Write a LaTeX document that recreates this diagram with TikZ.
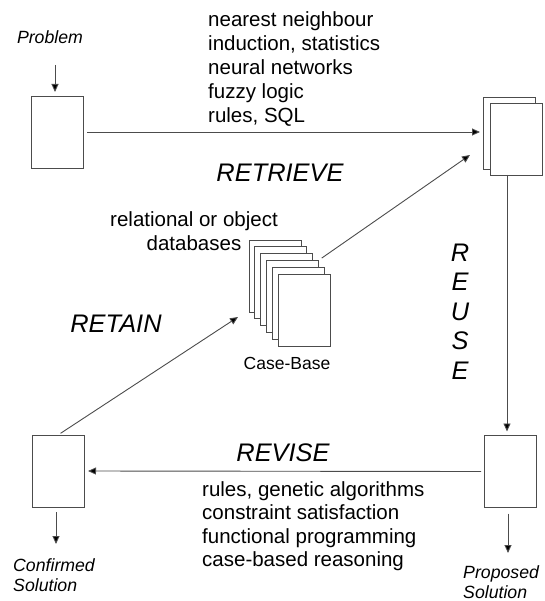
\documentclass[tikz,border=0pt]{standalone}
\usepackage{fontspec}
\setmainfont{Liberation Sans}
\usetikzlibrary{arrows.meta}
\tikzset{
  x=1pt, y=-1pt,
  lin/.style={draw=black!70, line width=0.9pt},
  arr/.style={lin, -{Triangle[length=8pt,width=7pt,fill=black]}},
  page/.style={lin, fill=white, minimum width=52pt, minimum height=72pt, inner sep=0pt, outer sep=0pt},
  list/.style={anchor=base west, inner sep=0pt, font=\fontsize{20.5}{24}\selectfont},
  big/.style={anchor=base, inner sep=0pt, font=\fontsize{25.4}{30}\selectfont\itshape},
  small/.style={anchor=base west, inner sep=0pt, font=\fontsize{17.7}{20}\selectfont\itshape},
}
\begin{document}
\begin{tikzpicture}
\useasboundingbox (0,0) rectangle (544,601);

% Problem
\node[small, anchor=base] (prob) at (50,44) {Problem};
\node[page] (b1) at (57,132) {};
\coordinate (pin) at (55,65);
\draw[arr, shorten >=4pt] (pin) -- (pin |- b1.north);

% top-right pages
\node[page] (pb) at (509,133) {};
\node[page] (pf) at (516,139) {};

% retrieve arrow
\draw[arr, shorten <=4pt, shorten >=3pt] (b1.east) -- (b1.east -| pb.west);

% methods list
\foreach \t [count=\i from 0] in {nearest neighbour, {induction, statistics}, neural networks, fuzzy logic, {rules, SQL}}
  \node[list] (top\i) at (208,27+24*\i) {\t};

\node[big] (retrieve) at (280,182) {RETRIEVE};

% case base
\foreach \i in {0,...,5}
  \node[page] (cb\i) at (275+5.8*\i,276+6.8*\i) {};
\node[anchor=base, inner sep=0pt, font=\fontsize{20.5}{24}\selectfont] (rel1) at (194,226) {relational or object};
\node[anchor=base, inner sep=0pt, font=\fontsize{20.5}{24}\selectfont] (rel2) at (194,251) {databases};
\node[anchor=base, inner sep=0pt, font=\fontsize{17.5}{20}\selectfont] (cbl) at (287,369) {Case-Base};

\coordinate (rtip) at (470,155);
\draw[arr, shorten <=4pt] (cb3.north east) -- (rtip);

% reuse
\foreach \l [count=\i from 0] in {R,E,U,S,E}
  \node[big] (reuse\i) at (460,261+29.5*\i) {\l};
\node[page] (pp) at (510,471.5) {};
\coordinate (rs) at (507,175);
\draw[arr, shorten >=4pt] (rs) -- (rs |- pp.north);

% proposed solution
\coordinate (pend) at (508,553);
\draw[arr, shorten <=6pt] (pp.south -| pend) -- (pend);
\node[small] (prop1) at (463,578) {Proposed};
\node[small] (prop2) at (463,598) {Solution};

% revise
\node[page] (bc) at (58,471) {};
\draw[arr, shorten <=3pt, shorten >=4pt] (pp.west) -- (bc.east);
\node[big] (revise) at (283,461) {REVISE};
\foreach \t [count=\i from 0] in {{rules, genetic algorithms}, constraint satisfaction, functional programming, case-based reasoning}
  \node[list] (bot\i) at (202,496+23.5*\i) {\t};

% confirmed solution
\coordinate (cend) at (56,544);
\draw[arr, shorten <=5pt] (bc.south -| cend) -- (cend);
\node[small] (conf1) at (13,571) {Confirmed};
\node[small] (conf2) at (13,591) {Solution};

% retain
\coordinate (ltip) at (238,317);
\draw[arr, shorten <=3pt] (bc.north) -- (ltip);
\node[big] (retain) at (116,332) {RETAIN};
\end{tikzpicture}
\end{document}
